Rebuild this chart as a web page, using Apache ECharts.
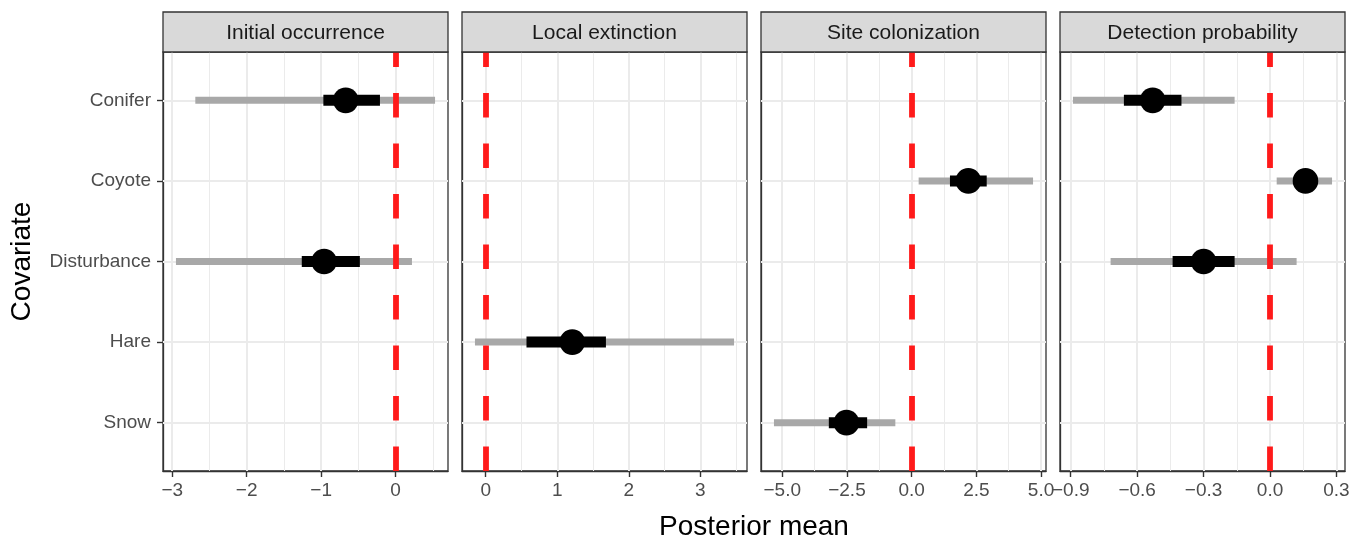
<!DOCTYPE html>
<html><head><meta charset="utf-8">
<script src="https://cdn.jsdelivr.net/npm/echarts@6/dist/echarts.min.js"></script>
<style>html,body{margin:0;padding:0;background:#fff}#c{width:1362px;height:542px}</style>
</head><body><div id="c"></div>
<script>
const covariates = ['Conifer', 'Coyote', 'Disturbance', 'Hare', 'Snow'];
const panelTitles = ['Initial occurrence', 'Local extinction', 'Site colonization', 'Detection probability'];
// [panel][covariate], null = covariate not in that sub-model
const postMean = [
  [-0.67, null, -0.96, null, null],
  [null, null, null, 1.21, null],
  [null, 2.19, null, null, -2.52],
  [-0.53, 0.16, -0.30, null, null]
];
const lower95 = [
  [-2.69, null, -2.95, null, null],
  [null, null, null, -0.15, null],
  [null, 0.27, null, null, -5.32],
  [-0.89, 0.03, -0.72, null, null]
];
const upper95 = [
  [0.53, null, 0.22, null, null],
  [null, null, null, 3.47, null],
  [null, 4.69, null, null, -0.63],
  [-0.16, 0.28, 0.12, null, null]
];
const lower50 = [
  [-0.97, null, -1.26, null, null],
  [null, null, null, 0.57, null],
  [null, 1.48, null, null, -3.20],
  [-0.66, 0.11, -0.44, null, null]
];
const upper50 = [
  [-0.21, null, -0.48, null, null],
  [null, null, null, 1.68, null],
  [null, 2.90, null, null, -1.72],
  [-0.40, 0.21, -0.16, null, null]
];
const majorTicks = [[-3, -2, -1, 0], [0, 1, 2, 3], [-5, -2.5, 0, 2.5, 5], [-0.9, -0.6, -0.3, 0, 0.3]];
const minorTicks = [[-2.5, -1.5, -0.5, 0.5], [0.5, 1.5, 2.5, 3.5], [-3.75, -1.25, 1.25, 3.75], [-0.75, -0.45, -0.15, 0.15]];
const labelDigits = [0, 0, 1, 1];
const refValue = 0;
const xTitle = 'Posterior mean';
const yTitle = 'Covariate';

// layout / style
const FONT = '"Liberation Sans", Arial, Helvetica, sans-serif';
const gridLeft = [163, 462, 761, 1060];
const gridW = 285, gridTop = 52, gridH = 419;
const stripTop = 12, stripH = 40;
const INK = '#333333';

function fmt(v, d) {
  const s = Math.abs(v).toFixed(d);
  return (v < 0 ? '\u2212' : '') + s;
}

const chart = echarts.init(document.getElementById('c'), null, {renderer: 'canvas'});
const grids = [], xAxes = [], yAxes = [], series = [], graphics = [];
const yMin = -0.6, yMax = covariates.length - 1 + 0.6;
const catIdx = covariates.map((_, k) => k);

panelTitles.forEach((title, i) => {
  // scale limits: data range (incl. reference line) expanded by 5%
  const vals = [refValue];
  covariates.forEach((_, k) => {
    if (lower95[i][k] != null) vals.push(lower95[i][k], upper95[i][k]);
  });
  const lo = Math.min(...vals), hi = Math.max(...vals);
  const pad = (hi - lo) * 0.05;

  grids.push({left: gridLeft[i], top: gridTop, width: gridW, height: gridH,
    show: true, borderColor: INK, borderWidth: 1.3, backgroundColor: '#ffffff',
    containLabel: false, outerBoundsMode: 'none'});
  xAxes.push({gridIndex: i, type: 'value', min: lo - pad, max: hi + pad, position: 'bottom',
    axisLine: {show: true, onZero: false, lineStyle: {color: INK, width: 1.3}}, splitLine: {show: false},
    axisTick: {show: true, inside: false, customValues: majorTicks[i], length: 6, lineStyle: {color: INK, width: 1.4}},
    axisLabel: {show: true, customValues: majorTicks[i], formatter: v => fmt(v, labelDigits[i]),
      margin: 10, fontSize: 19, color: '#4D4D4D', fontFamily: FONT, showMinLabel: true, showMaxLabel: true}
  });
  yAxes.push({gridIndex: i, type: 'value', inverse: true, min: yMin, max: yMax, position: 'left',
    axisLine: {show: true, onZero: false, lineStyle: {color: INK, width: 1.3}}, splitLine: {show: false},
    axisTick: {show: i === 0, inside: false, customValues: catIdx, length: 6, lineStyle: {color: INK, width: 1.4}},
    axisLabel: {show: i === 0, customValues: catIdx, formatter: v => covariates[Math.round(v)],
      margin: 12, fontSize: 19, color: '#4D4D4D', fontFamily: FONT}
  });

  // background grid lines
  const gl = [];
  minorTicks[i].forEach(v => gl.push({xAxis: v, lineStyle: {color: '#EBEBEB', width: 1, type: 'solid'}}));
  majorTicks[i].forEach(v => gl.push({xAxis: v, lineStyle: {color: '#EBEBEB', width: 2, type: 'solid'}}));
  catIdx.forEach(v => gl.push({yAxis: v, lineStyle: {color: '#EBEBEB', width: 2, type: 'solid'}}));
  series.push({type: 'line', xAxisIndex: i, yAxisIndex: i, data: [], z: 1, silent: true,
    markLine: {silent: true, z: 1, symbol: ['none', 'none'], label: {show: false}, animation: false, data: gl}});

  // estimates
  const pts = [];
  covariates.forEach((_, k) => {
    if (postMean[i][k] != null) pts.push([k, postMean[i][k], lower95[i][k], upper95[i][k], lower50[i][k], upper50[i][k]]);
  });
  series.push({type: 'custom', xAxisIndex: i, yAxisIndex: i, z: 3, silent: true, clip: false,
    encode: {x: [1, 2, 3, 4, 5], y: 0},
    data: pts,
    renderItem: (params, api) => {
      const y = api.value(0);
      const a95 = api.coord([api.value(2), y]), b95 = api.coord([api.value(3), y]);
      const a50 = api.coord([api.value(4), y]), b50 = api.coord([api.value(5), y]);
      const m = api.coord([api.value(1), y]);
      return {type: 'group', children: [
        {type: 'line', shape: {x1: a95[0], y1: a95[1], x2: b95[0], y2: b95[1]}, style: {stroke: '#A8A8A8', lineWidth: 7}},
        {type: 'line', shape: {x1: a50[0], y1: a50[1], x2: b50[0], y2: b50[1]}, style: {stroke: '#000000', lineWidth: 11}},
        {type: 'circle', shape: {cx: m[0], cy: m[1], r: 12.8}, style: {fill: '#000000'}}
      ]};
    }
  });

  // reference line
  series.push({type: 'line', xAxisIndex: i, yAxisIndex: i, data: [], z: 8, silent: true,
    markLine: {silent: true, z: 8, symbol: ['none', 'none'], label: {show: false}, animation: false,
      data: [{xAxis: refValue, lineStyle: {color: '#FF1A1A', width: 5.8, type: [24.5, 26], dashOffset: 9.5}}]}});

  // facet strip
  graphics.push({type: 'rect', z: 10, shape: {x: gridLeft[i], y: stripTop, width: gridW, height: stripH},
    style: {fill: '#D9D9D9', stroke: INK, lineWidth: 1.3}});
  graphics.push({type: 'text', z: 11, x: gridLeft[i] + gridW / 2, y: stripTop + stripH / 2 + 1,
    style: {text: title, fontSize: 21, fontFamily: FONT, fill: '#1A1A1A', align: 'center', verticalAlign: 'middle',
      textAlign: 'center', textVerticalAlign: 'middle'}});
});

// axis titles
graphics.push({type: 'text', x: (gridLeft[0] + gridLeft[3] + gridW) / 2, y: 527,
  style: {text: xTitle, fontSize: 28, fontFamily: FONT, fill: '#000000', align: 'center', verticalAlign: 'middle',
    textAlign: 'center', textVerticalAlign: 'middle'}});
graphics.push({type: 'text', x: 22, y: gridTop + gridH / 2, rotation: Math.PI / 2,
  style: {text: yTitle, fontSize: 28, fontFamily: FONT, fill: '#000000', align: 'center', verticalAlign: 'middle',
    textAlign: 'center', textVerticalAlign: 'middle'}});

chart.setOption({
  animation: false,
  backgroundColor: '#ffffff',
  grid: grids, xAxis: xAxes, yAxis: yAxes, series: series,
  graphic: {elements: graphics}
});
</script></body></html>
